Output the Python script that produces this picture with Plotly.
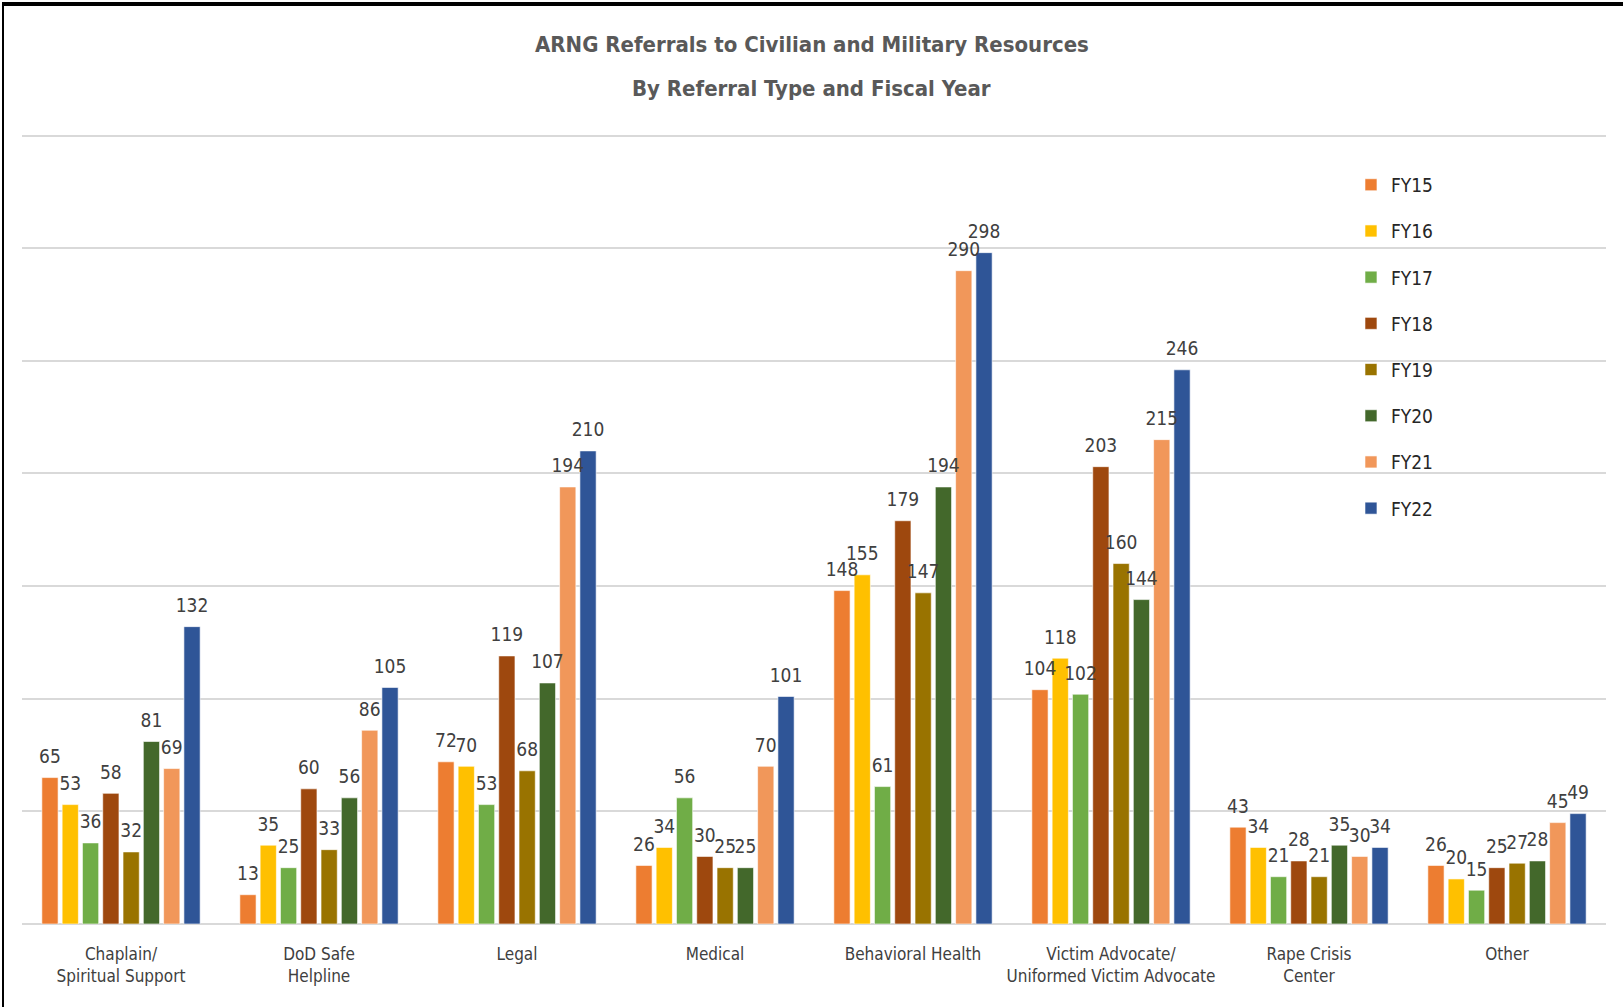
"""
    ARNG referrals by referral type and fiscal year
"""

import plotly.graph_objs as go

# Data
categories = [
    "Chaplain/<br>Spiritual Support",
    "DoD Safe<br>Helpline",
    "Legal",
    "Medical",
    "Behavioral Health",
    "Victim Advocate/<br>Uniformed Victim Advocate",
    "Rape Crisis<br>Center",
    "Other",
]
cat_keys = ["chap", "dod", "legal", "med", "bh", "va", "rape", "other"]

fy15 = [65, 13, 72, 26, 148, 104, 43, 26]
fy16 = [53, 35, 70, 34, 155, 118, 34, 20]
fy17 = [36, 25, 53, 56, 61, 102, 21, 15]
fy18 = [58, 60, 119, 30, 179, 203, 28, 25]
fy19 = [32, 33, 68, 25, 147, 160, 21, 27]
fy20 = [81, 56, 107, 25, 194, 144, 35, 28]
fy21 = [69, 86, 194, 70, 290, 215, 30, 45]
fy22 = [132, 105, 210, 101, 298, 246, 34, 49]

series_names = ["FY15", "FY16", "FY17", "FY18", "FY19", "FY20", "FY21", "FY22"]
series_values = [fy15, fy16, fy17, fy18, fy19, fy20, fy21, fy22]
series_colors = [
    "#ED7D31", "#FFC000", "#70AD47", "#9E480E",
    "#997300", "#43682B", "#F1975A", "#2F5597",
]

title_lines = [
    "ARNG Referrals to Civilian and Military Resources",
    "By Referral Type and Fiscal Year",
]

FONT = "DejaVu Sans Condensed, Liberation Sans Narrow, sans-serif"
W, H = 1623, 1007
M_L, M_R, M_T, M_B = 22, 17, 131, 83
Y_MAX = 352
BARGAP = 0.18

data = []
for name, vals, color in zip(series_names, series_values, series_colors):
    data.append(
        go.Bar(
            x=cat_keys,
            y=vals,
            name=name,
            legendgroup=name,
            offsetgroup=name,
            marker={"color": color, "line": {"color": "rgba(255,255,255,0.6)", "width": 1}},
            hoverinfo="x+y+name",
        )
    )

# Value labels, grouped like the bars, lifted a little above the bar tops
for name, vals in zip(series_names, series_values):
    data.append(
        go.Scatter(
            x=cat_keys,
            y=vals,
            mode="markers+text",
            text=[str(v) for v in vals],
            textposition="top center",
            textfont={"family": FONT, "size": 19, "color": "#404040"},
            marker={"size": 14, "opacity": 0},
            offsetgroup=name,
            legendgroup=name,
            showlegend=False,
            hoverinfo="skip",
            cliponaxis=False,
        )
    )

layout = go.Layout(
    width=W,
    height=H,
    margin={"l": M_L, "r": M_R, "t": M_T, "b": M_B},
    paper_bgcolor="white",
    plot_bgcolor="white",
    font={"family": FONT, "color": "#404040"},
    barmode="group",
    bargap=BARGAP,
    bargroupgap=0.2,
    scattermode="group",
    scattergap=BARGAP,
    xaxis={
        "tickmode": "array",
        "tickvals": cat_keys,
        "ticktext": categories,
        "showgrid": False,
        "showline": False,
        "ticks": "",
        "ticklabelstandoff": 18,
        "tickfont": {"family": FONT, "size": 17, "color": "#404040"},
    },
    yaxis={
        "range": [0, Y_MAX],
        "dtick": 50,
        "showticklabels": False,
        "showgrid": True,
        "gridcolor": "#D9D9D9",
        "gridwidth": 2,
        "zeroline": True,
        "zerolinecolor": "#D9D9D9",
        "zerolinewidth": 2,
    },
    legend={
        "x": 0.839,
        "xanchor": "left",
        "y": 0.956,
        "yanchor": "top",
        "traceorder": "grouped",
        "tracegroupgap": 18.5,
        "font": {"family": FONT, "size": 19, "color": "#262626"},
        "bgcolor": "rgba(0,0,0,0)",
    },
    showlegend=True,
)

fig = go.Figure(data=data, layout=layout)

pw = W - M_L - M_R
ph = H - M_T - M_B

# Two-line title, placed as annotations to get the wide line spacing
for line, ypx in zip(title_lines, [44, 88]):
    fig.add_annotation(
        text="<b>" + line + "</b>",
        xref="paper", yref="paper",
        x=(W / 2 - M_L) / pw, y=1 + (M_T - ypx) / ph,
        xanchor="center", yanchor="middle",
        showarrow=False,
        font={"family": FONT, "size": 22, "color": "#595959"},
    )

# Frame lines (top and left) like the pasted image
fig.add_shape(
    type="line", xref="paper", yref="paper",
    x0=(2 - M_L) / pw, x1=(W - M_L) / pw,
    y0=1 + (M_T - 4) / ph, y1=1 + (M_T - 4) / ph,
    line={"color": "black", "width": 4},
)
fig.add_shape(
    type="line", xref="paper", yref="paper",
    x0=(3 - M_L) / pw, x1=(3 - M_L) / pw,
    y0=-M_B / ph, y1=1 + (M_T - 2) / ph,
    line={"color": "black", "width": 2},
)

fig.write_html(
    "out.html",
    config={"displayModeBar": False},
    post_script="document.body.style.margin='0';",
)
